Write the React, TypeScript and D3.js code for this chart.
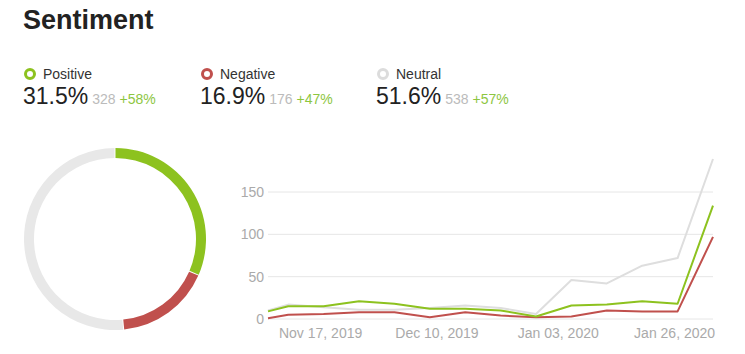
import { useEffect, useRef } from 'react';
import * as d3 from 'd3';

// summary figures
const categories = ['Positive', 'Negative', 'Neutral'];
const shares = [31.5, 16.9, 51.6];
const counts = [328, 176, 538];
const changes = ['+58%', '+47%', '+57%'];
const colors = ['#8dc21f', '#c0504d', '#e3e3e3'];

// weekly series
const dates = [
  '2019-11-06', '2019-11-10', '2019-11-17', '2019-11-24', '2019-12-01', '2019-12-08', '2019-12-15',
  '2019-12-22', '2019-12-29', '2020-01-05', '2020-01-12', '2020-01-19', '2020-01-26', '2020-02-02',
];
const positive = [9, 15, 15, 21, 18, 12, 12, 10, 3, 16, 17, 21, 18, 134];
const negative = [1, 5, 6, 8, 8, 2, 8, 4, 2, 3, 10, 9, 9, 97];
const neutral = [10, 17, 14, 11, 11, 13, 16, 13, 6, 46, 42, 63, 72, 189];
const yTicks = [0, 50, 100, 150];
const xTicks = ['2019-11-17', '2019-12-10', '2020-01-03', '2020-01-26'];

const FONT = '"Liberation Sans", Arial, sans-serif';

export default function App() {
  const svgRef = useRef<SVGSVGElement>(null);

  useEffect(() => {
    if (!svgRef.current) return;
    const svg = d3.select(svgRef.current);
    svg.selectAll('*').remove();
    svg.attr('width', 745).attr('height', 354).style('font-family', FONT);

    // Title
    svg.append('text')
      .attr('x', 23)
      .attr('y', 29)
      .attr('font-size', '27px')
      .attr('font-weight', 'bold')
      .attr('fill', '#222')
      .text('Sentiment');

    // Legend / summary blocks
    const colX = [23, 200, 376];
    categories.forEach((c, i) => {
      const g = svg.append('g').attr('transform', `translate(${colX[i]},0)`);
      g.append('circle')
        .attr('cx', 7)
        .attr('cy', 74)
        .attr('r', 4.5)
        .attr('fill', 'none')
        .attr('stroke', colors[i] === '#e3e3e3' ? '#dcdcdc' : colors[i])
        .attr('stroke-width', 3);
      g.append('text')
        .attr('x', 20)
        .attr('y', 79)
        .attr('font-size', '14px')
        .attr('fill', '#333')
        .text(c);
      const t = g.append('text').attr('x', 0).attr('y', 104).attr('fill', '#222');
      t.append('tspan').attr('font-size', '23px').text(`${shares[i].toFixed(1)}%`);
      t.append('tspan').attr('dx', 4).attr('font-size', '14px').attr('fill', '#bbb').text(counts[i]);
      t.append('tspan').attr('dx', 4).attr('font-size', '14px').attr('fill', '#8dc63f').text(changes[i]);
    });

    // Donut
    const pie = d3.pie<number>().sort(null).padAngle(0.008);
    const arc = d3.arc<d3.PieArcDatum<number>>().innerRadius(81).outerRadius(91);
    const donut = svg.append('g').attr('transform', 'translate(115,239)');
    donut.selectAll('path')
      .data(pie(shares))
      .enter()
      .append('path')
      .attr('d', arc)
      .attr('fill', (_, i) => (i === 2 ? '#e8e8e8' : colors[i]));

    // Line chart
    const parse = d3.timeParse('%Y-%m-%d');
    const xs = dates.map((d) => parse(d) as Date);
    const x = d3.scaleTime().domain([xs[0], xs[xs.length - 1]]).range([268, 713]);
    const y = d3.scaleLinear().domain([0, 150]).range([319, 192]);

    const grid = svg.append('g');
    yTicks.forEach((v) => {
      grid.append('line')
        .attr('x1', 268)
        .attr('x2', 713)
        .attr('y1', y(v))
        .attr('y2', y(v))
        .attr('stroke', '#e6e6e6')
        .attr('stroke-width', 1);
      grid.append('text')
        .attr('x', 264)
        .attr('y', y(v))
        .attr('dy', '0.35em')
        .attr('text-anchor', 'end')
        .attr('font-size', '14px')
        .attr('fill', '#aaa')
        .text(v);
    });

    const fmt = d3.timeFormat('%b %d, %Y');
    xTicks.forEach((d) => {
      const dt = parse(d) as Date;
      svg.append('text')
        .attr('x', x(dt) - 3)
        .attr('y', 338)
        .attr('text-anchor', 'middle')
        .attr('font-size', '14px')
        .attr('fill', '#aaa')
        .text(fmt(dt));
    });

    const line = d3.line<number>()
      .x((_, i) => x(xs[i]))
      .y((d) => y(d));

    const series = [
      { values: neutral, color: '#dedede' },
      { values: negative, color: '#c0504d' },
      { values: positive, color: '#8dc21f' },
    ];
    series.forEach((s) => {
      svg.append('path')
        .attr('d', line(s.values))
        .attr('fill', 'none')
        .attr('stroke', s.color)
        .attr('stroke-width', 2)
        .attr('stroke-linejoin', 'round');
    });
  }, []);

  return (
    <div style={{ position: 'absolute', left: 0, top: 0 }}>
      <svg ref={svgRef} style={{ display: 'block' }} />
    </div>
  );
}
